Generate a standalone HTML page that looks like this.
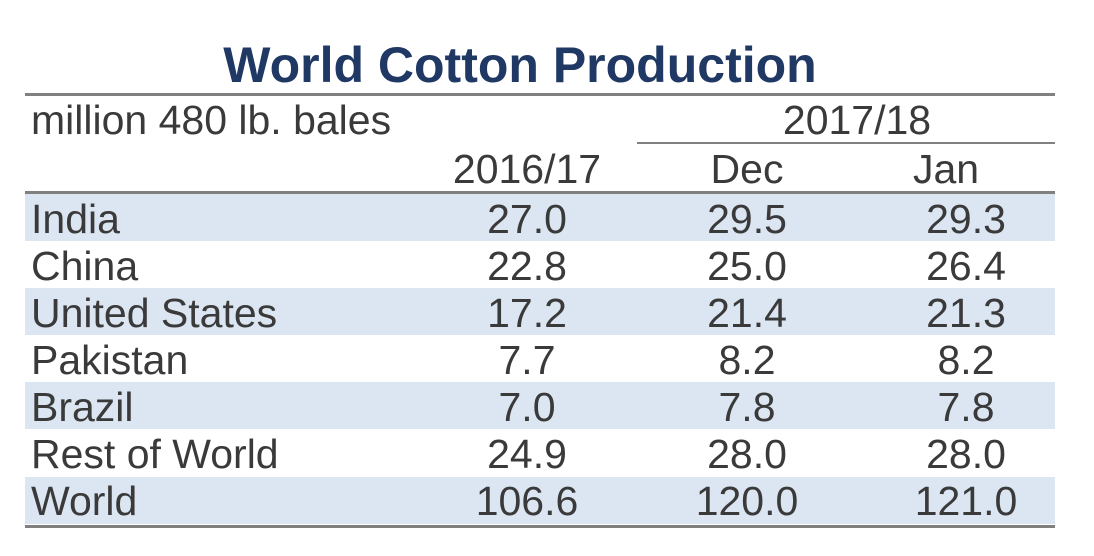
<!DOCTYPE html>
<html><head><meta charset="utf-8"><style>
body{margin:0;width:1094px;height:556px;background:#fff;position:relative;overflow:hidden;font-family:"Liberation Sans",Arial,sans-serif;color:#3a3a3a}
.a{position:absolute;white-space:nowrap}
.t{font-size:41px;line-height:41px}
.c{transform:translateX(-50%)}
.ln{position:absolute;background:#808080}
.row{position:absolute;left:25px;width:1030px;height:47px}
</style></head><body>
<div class="a c" style="left:520px;top:38px;font-size:50px;font-weight:bold;color:#1F3864;line-height:54px">World Cotton Production</div>
<div class="ln" style="left:25px;top:93px;width:1030px;height:3px"></div>
<div class="a t" style="left:31px;top:100px">million 480 lb. bales</div>
<div class="a t c" style="left:857px;top:100px">2017/18</div>
<div class="ln" style="left:637px;top:142px;width:418px;height:2px"></div>
<div class="a t c" style="left:527px;top:149px">2016/17</div>
<div class="a t c" style="left:747px;top:149px">Dec</div>
<div class="a t c" style="left:946px;top:149px">Jan</div>
<div class="ln" style="left:25px;top:191px;width:1030px;height:3px"></div>
<div id="body"></div>
<div class="ln" style="left:25px;top:525px;width:1030px;height:3px"></div>
<script>
const countries=["India","China","United States","Pakistan","Brazil","Rest of World","World"];
const v1617=["27.0","22.8","17.2","7.7","7.0","24.9","106.6"];
const vDec=["29.5","25.0","21.4","8.2","7.8","28.0","120.0"];
const vJan=["29.3","26.4","21.3","8.2","7.8","28.0","121.0"];
const b=document.getElementById('body');
countries.forEach((c,i)=>{
  const top=194+i*47.1;
  const r=document.createElement('div');
  r.className='row';
  r.style.top=top+'px';
  r.style.background=i%2===0?'#DCE6F2':'#fff';
  
  
  b.appendChild(r);
  const cells=[[c,31,false],[v1617[i],527,true],[vDec[i],747,true],[vJan[i],966,true]];
  cells.forEach((cl,j)=>{
    const d=document.createElement('div');
    d.className='a t'+(cl[2]?' c':'');
    d.style.left=cl[1]+'px';
    d.style.top=(top+4.5)+'px';
    d.textContent=cl[0];
    
    
    b.appendChild(d);
  });
});
</script>
</body></html>
